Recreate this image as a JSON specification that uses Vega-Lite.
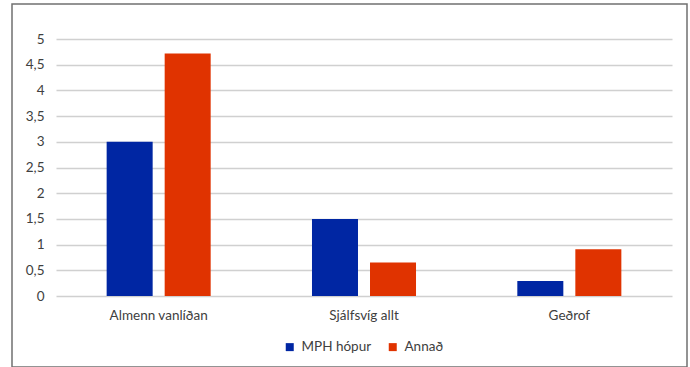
{
  "$schema": "https://vega.github.io/schema/vega-lite/v6.json",
  "width": 675,
  "height": 363,
  "autosize": {"type": "none"},
  "padding": {"left": 12, "top": 4, "right": 3, "bottom": 0},
  "background": "white",
  "config": {
    "view": {"stroke": "#707070", "strokeWidth": 1.5},
    "font": "Lato",
    "axis": {"labelFont": "Lato", "labelColor": "#404040", "labelFontSize": 13.5}
  },
  "data": {
    "values": [
      {"flokkur": "Almenn vanlíðan", "hopur": "MPH hópur", "gildi": 3.0},
      {"flokkur": "Almenn vanlíðan", "hopur": "Annað", "gildi": 4.72},
      {"flokkur": "Sjálfsvíg allt", "hopur": "MPH hópur", "gildi": 1.5},
      {"flokkur": "Sjálfsvíg allt", "hopur": "Annað", "gildi": 0.65},
      {"flokkur": "Geðrof", "hopur": "MPH hópur", "gildi": 0.29},
      {"flokkur": "Geðrof", "hopur": "Annað", "gildi": 0.91}
    ]
  },
  "mark": {"type": "bar"},
  "encoding": {
    "x": {
      "field": "flokkur",
      "type": "nominal",
      "sort": null,
      "scale": {"range": [44, 660], "paddingInner": 0, "paddingOuter": 0},
      "axis": {
        "title": null,
        "labelAngle": 0,
        "domain": false,
        "ticks": false,
        "labelPadding": 12,
        "offset": -71
      }
    },
    "xOffset": {
      "field": "hopur",
      "type": "nominal",
      "sort": ["MPH hópur", "Annað"],
      "scale": {"paddingInner": 0.207, "paddingOuter": 0.873}
    },
    "y": {
      "field": "gildi",
      "type": "quantitative",
      "scale": {"domain": [0, 5], "range": [292, 35], "nice": false, "zero": true},
      "axis": {
        "title": null,
        "values": [0, 0.5, 1, 1.5, 2, 2.5, 3, 3.5, 4, 4.5, 5],
        "labelExpr": "replace(toString(datum.value), '.', ',')",
        "domain": false,
        "ticks": false,
        "offset": -36,
        "labelPadding": 4,
        "gridColor": "#d0d0d0",
        "gridWidth": 1.5
      }
    },
    "color": {
      "field": "hopur",
      "type": "nominal",
      "scale": {"domain": ["MPH hópur", "Annað"], "range": ["#0026A3", "#E03300"]},
      "legend": {
        "title": null,
        "orient": "none",
        "direction": "horizontal",
        "legendX": 271,
        "legendY": 336,
        "symbolType": "square",
        "symbolSize": 64,
        "symbolStrokeWidth": 0,
        "labelFont": "Lato",
        "labelFontSize": 13.5,
        "labelColor": "#404040",
        "labelOffset": 5,
        "columnPadding": 14,
        "padding": 0
      }
    }
  }
}
